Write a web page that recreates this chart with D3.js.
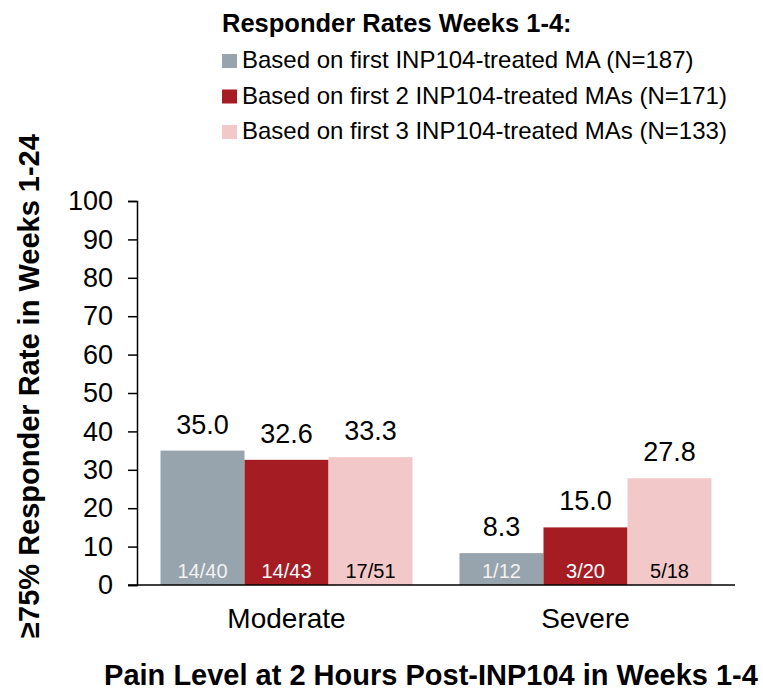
<!DOCTYPE html>
<html>
<head>
<meta charset="utf-8">
<script src="https://cdn.jsdelivr.net/npm/d3@7"></script>
<style>
  body { margin: 0; background: #fff; }
  text { font-family: Arial, "Liberation Sans", sans-serif; }
</style>
</head>
<body>
<script>
// chart data
const categories = ['Moderate', 'Severe'];
const seriesNames = [
    'Based on first INP104-treated MA (N=187)',
    'Based on first 2 INP104-treated MAs (N=171)',
    'Based on first 3 INP104-treated MAs (N=133)'
];
const seriesColors = ['#97a3ad', '#a51d23', '#f3c8c9'];
const labelColors = ['#f2f2f2', '#ffffff', '#000000'];
const rates = [
    [35.0, 32.6, 33.3],
    [8.3, 15.0, 27.8]
];
const counts = [
    ['14/40', '14/43', '17/51'],
    ['1/12', '3/20', '5/18']
];
const yTicks = [0, 10, 20, 30, 40, 50, 60, 70, 80, 90, 100];

let svg = d3.select('body').append('svg')
    .attr('width', 763)
    .attr('height', 691);

let x = d3.scaleBand()
    .domain(categories)
    .range([137, 735])
    .paddingInner(0.157)
    .paddingOuter(0.0786);

let xInner = d3.scaleBand()
    .domain(d3.range(seriesNames.length))
    .range([0, x.bandwidth()]);

let y = d3.scaleLinear()
    .domain([0, 100])
    .range([585, 201]);

// y axis
let yAxis = svg.append('g')
    .attr('transform', 'translate(137,0)')
    .call(d3.axisLeft(y).tickValues(yTicks).tickSize(9).tickPadding(15));
yAxis.select('.domain').attr('stroke', '#000').attr('stroke-width', 1.5);
yAxis.selectAll('.tick line').attr('stroke', '#000').attr('stroke-width', 1.5);
yAxis.selectAll('.tick text')
    .attr('font-size', 27)
    .attr('fill', '#000')
    .style('font-family', 'Arial, "Liberation Sans", sans-serif');

// bars
let groups = svg.append('g').selectAll('g')
    .data(categories)
    .enter()
    .append('g')
    .attr('transform', (d) => 'translate(' + x(d) + ',0)');

groups.selectAll('rect')
    .data((d, i) => rates[i].map((v, j) => ({ v: v, j: j })))
    .enter()
    .append('rect')
    .attr('x', (d) => xInner(d.j))
    .attr('y', (d) => y(d.v))
    .attr('width', xInner.bandwidth())
    .attr('height', (d) => y(0) - y(d.v))
    .attr('fill', (d) => seriesColors[d.j]);

groups.selectAll('text.val')
    .data((d, i) => rates[i].map((v, j) => ({ v: v, j: j })))
    .enter()
    .append('text')
    .attr('class', 'val')
    .attr('x', (d) => xInner(d.j) + xInner.bandwidth() / 2)
    .attr('y', (d) => y(d.v) - 17)
    .attr('text-anchor', 'middle')
    .attr('font-size', 27)
    .text((d) => d.v.toFixed(1));

groups.selectAll('text.cnt')
    .data((d, i) => counts[i].map((c, j) => ({ c: c, j: j })))
    .enter()
    .append('text')
    .attr('class', 'cnt')
    .attr('x', (d) => xInner(d.j) + xInner.bandwidth() / 2)
    .attr('y', 578)
    .attr('text-anchor', 'middle')
    .attr('font-size', 20)
    .attr('fill', (d) => labelColors[d.j])
    .text((d) => d.c);

// x axis line + category labels
svg.append('line')
    .attr('x1', 128).attr('x2', 735)
    .attr('y1', y(0)).attr('y2', y(0))
    .attr('stroke', '#000').attr('stroke-width', 1.5);

svg.append('g').selectAll('text')
    .data(categories)
    .enter()
    .append('text')
    .attr('x', (d) => x(d) + x.bandwidth() / 2)
    .attr('y', 628)
    .attr('text-anchor', 'middle')
    .attr('font-size', 28)
    .text((d) => d);

// axis titles
svg.append('text')
    .attr('x', 431)
    .attr('y', 685)
    .attr('text-anchor', 'middle')
    .attr('font-size', 29)
    .attr('font-weight', 'bold')
    .text('Pain Level at 2 Hours Post-INP104 in Weeks 1-4');

svg.append('text')
    .attr('transform', 'translate(39,386) rotate(-90)')
    .attr('text-anchor', 'middle')
    .attr('font-size', 29)
    .attr('font-weight', 'bold')
    .text('\u226575% Responder Rate in Weeks 1-24');

// legend
let legend = svg.append('g');
legend.append('text')
    .attr('x', 222)
    .attr('y', 32)
    .attr('font-size', 25.5)
    .attr('font-weight', 'bold')
    .text('Responder Rates Weeks 1-4:');

let items = legend.selectAll('g.item')
    .data(seriesNames)
    .enter()
    .append('g')
    .attr('class', 'item')
    .attr('transform', (d, i) => 'translate(222,' + (68 + i * 35.5) + ')');

items.append('rect')
    .attr('x', 0)
    .attr('y', -14)
    .attr('width', 15)
    .attr('height', 14)
    .attr('fill', (d, i) => seriesColors[i]);

items.append('text')
    .attr('x', 20)
    .attr('y', 0)
    .attr('font-size', 24)
    .text((d) => d);
</script>
</body>
</html>
